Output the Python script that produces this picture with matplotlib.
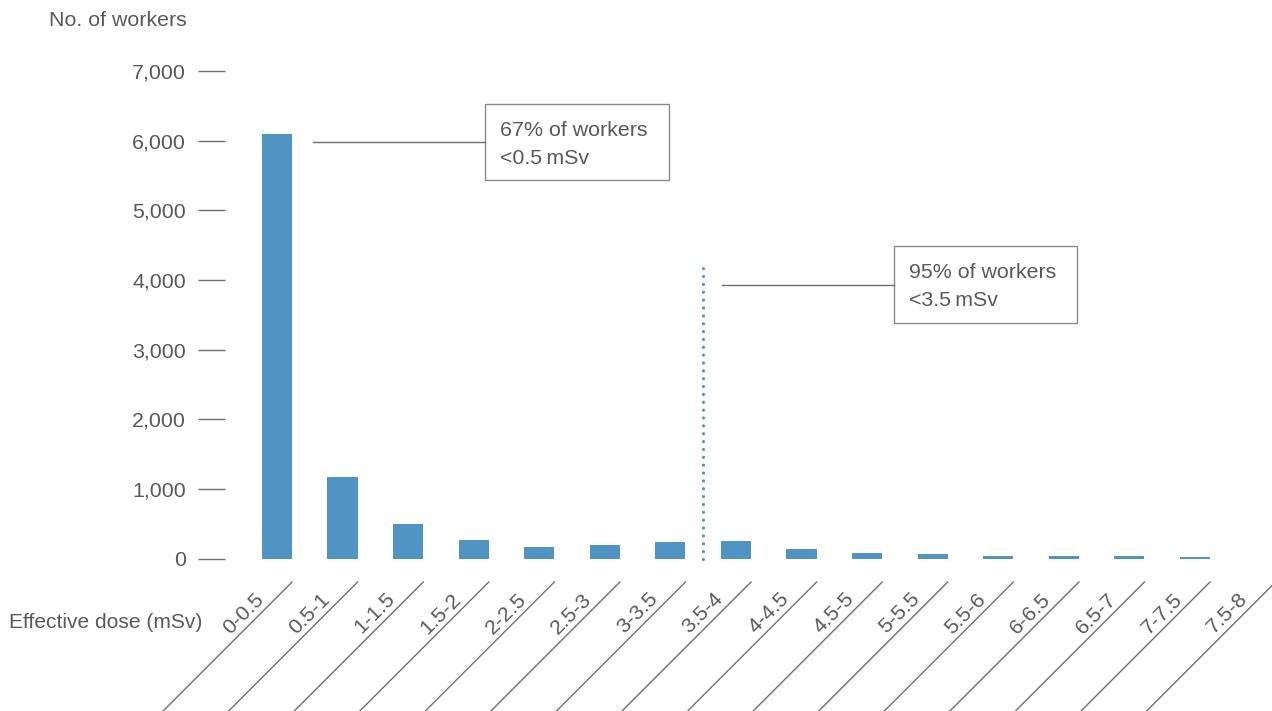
import numpy as np
import matplotlib
matplotlib.use("Agg")
import matplotlib.pyplot as plt
from matplotlib.patches import Rectangle
from matplotlib.lines import Line2D

# dados
categories = ["0-0.5", "0.5-1", "1-1.5", "1.5-2", "2-2.5", "2.5-3", "3-3.5", "3.5-4",
              "4-4.5", "4.5-5", "5-5.5", "5.5-6", "6-6.5", "6.5-7", "7-7.5", "7.5-8"]
workers = [6100, 1170, 500, 270, 170, 200, 240, 255, 140, 85, 70, 42, 40, 40, 25, 0]
yticks = [0, 1000, 2000, 3000, 4000, 5000, 6000, 7000]
cut_x = 6.5        # limite 3.5 mSv
cut_top = 4200

W, H = 1272, 711
TXT = "#595959"
GRAY = "#707070"
BLUE = "#4f94c3"
FS = 15.4

plt.rcParams["font.family"] = ["Liberation Sans", "DejaVu Sans"]
plt.rcParams["font.size"] = FS

fig = plt.figure(figsize=(W / 100, H / 100), dpi=100)

def fx(x):
    return x / W

def fy(y):
    return 1 - y / H

# eixo posicionado em pixels
left, right, top, base = 225, 1272, 70.8, 558.7
ax = fig.add_axes([fx(left), fy(base), (right - left) / W, (base - top) / H])

x = np.arange(len(categories))
ax.bar(x, workers, width=0.46, color=BLUE)
ax.set_xlim(-0.793, 15.175)
ax.set_ylim(0, 7000)

for s in ax.spines.values():
    s.set_visible(False)
ax.set_xticks([])
ax.set_yticks(yticks)
ax.set_yticklabels([f"{v:,}" for v in yticks], color=TXT, fontsize=FS)
ax.tick_params(axis="y", length=19.5, width=1.0, color=GRAY, pad=8.5)

# linha pontilhada
ax.plot([cut_x, cut_x], [0, cut_top], color=BLUE, lw=2.3,
        linestyle=(0, (0.01, 2.45)), dash_capstyle="round", clip_on=False)

fig.canvas.draw()

# rotulos diagonais com linhas
for i, lab in enumerate(categories):
    xr, _ = ax.transData.transform((i + 0.23, 0))
    ytop = H - 582
    fig.add_artist(Line2D([xr, xr - 140], [ytop, ytop - 140], transform=None,
                          color=GRAY, lw=1.0))
    fig.text(xr - 27, H - 600, lab, transform=None, rotation=45,
             rotation_mode="anchor", ha="right", va="baseline",
             color=TXT, fontsize=FS)

fig.text(fx(49), fy(21), "No. of workers", ha="left", va="center", color=TXT, fontsize=FS)
fig.text(fx(202), fy(622), "Effective dose (mSv)", ha="right", va="center", color=TXT, fontsize=15.1)

# caixas de anotacao
def note(x0, y0, x1, y1, lines, lx0, ly):
    fig.add_artist(Rectangle((fx(x0), fy(y1)), (x1 - x0) / W, (y1 - y0) / H,
                             transform=fig.transFigure, fill=False,
                             edgecolor="#8a8a8a", lw=1.0))
    fig.add_artist(Line2D([fx(lx0), fx(x0)], [fy(ly), fy(ly)],
                          transform=fig.transFigure, color=GRAY, lw=1.0))
    tx = x0 + 15.5
    fig.text(fx(tx), fy(y0 + 27), lines[0], ha="left", va="center", color=TXT, fontsize=FS)
    fig.text(fx(tx), fy(y0 + 54.5), lines[1], ha="left", va="center", color=TXT, fontsize=FS)

note(485, 103.7, 668.7, 180.3, ["67% of workers", "<0.5\u2009mSv"], 313, 142)
note(893.7, 246, 1077, 323, ["95% of workers", "<3.5\u2009mSv"], 722, 284.7)

fig.savefig("out.png", dpi=100)
